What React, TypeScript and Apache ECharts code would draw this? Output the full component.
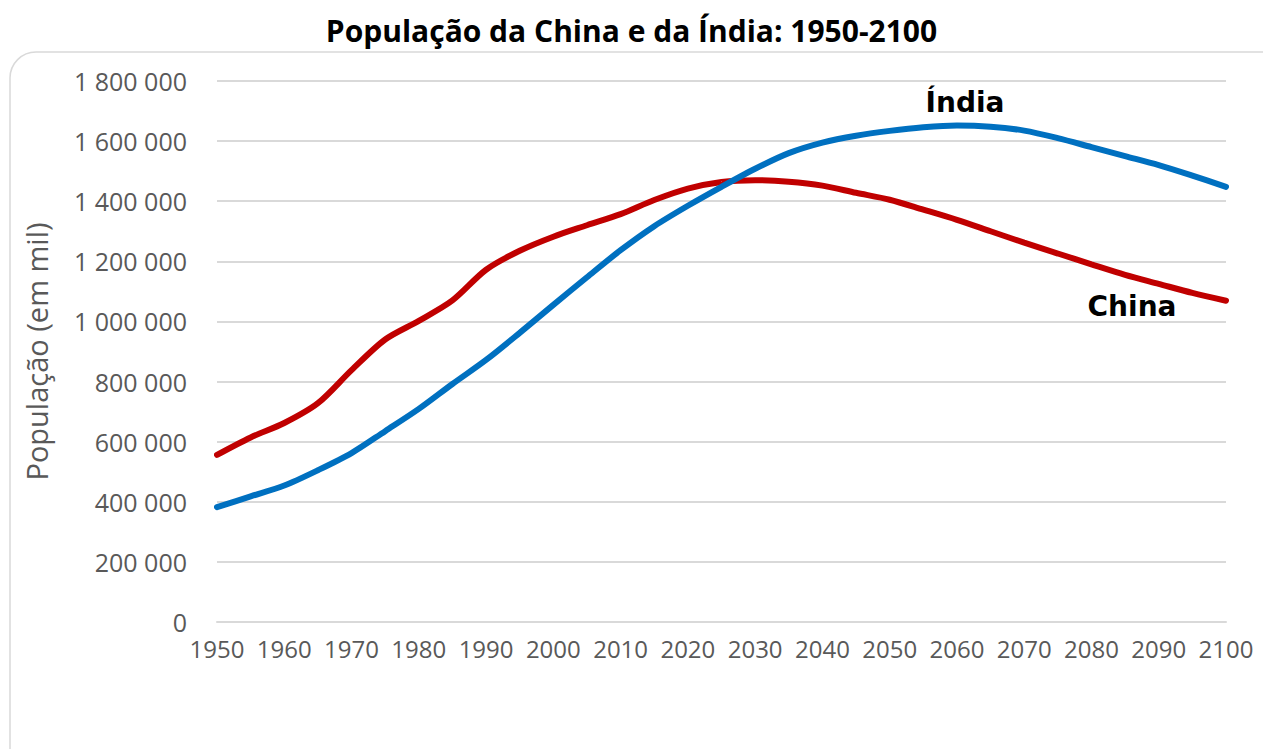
import React, { useEffect, useRef } from "react";
import * as echarts from "echarts";

const years = [1950, 1955, 1960, 1965, 1970, 1975, 1980, 1985, 1990, 1995, 2000, 2005, 2010, 2015, 2020, 2025, 2030, 2035, 2040, 2045, 2050, 2055, 2060, 2065, 2070, 2075, 2080, 2085, 2090, 2095, 2100];

// Population in thousands
const china = [556000, 614000, 662000, 728000, 838000, 940000, 1002000, 1070000, 1172000, 1235000, 1282000, 1320000, 1357000, 1404000, 1442000, 1464000, 1470000, 1465000, 1452000, 1428000, 1405000, 1372000, 1338000, 1300000, 1262000, 1226000, 1190000, 1155000, 1125000, 1095000, 1069000];

const india = [382000, 418000, 454000, 505000, 562000, 635000, 709000, 792000, 872000, 962000, 1055000, 1147000, 1237000, 1317000, 1385000, 1448000, 1508000, 1560000, 1595000, 1618000, 1634000, 1646000, 1652000, 1648000, 1635000, 1610000, 1580000, 1550000, 1520000, 1485000, 1448000];

const title = "População da China e da Índia: 1950-2100";
const yAxisName = "População (em mil)";

function fmt(v: number): string {
  return String(Math.round(v)).replace(/\B(?=(\d{3})+(?!\d))/g, " ");
}

export default function App() {
  const ref = useRef<HTMLDivElement>(null);
  useEffect(() => {
    if (!ref.current) return;
    const chart = echarts.init(ref.current, undefined, { renderer: "svg" });
    const font = "'Open Sans', sans-serif";
    chart.setOption({
      animation: false,
      backgroundColor: "#ffffff",
      title: {
        text: title,
        left: "center",
        top: 10,
        textStyle: { fontFamily: font, fontWeight: "bold", fontSize: 30, color: "#000000" },
      },
      graphic: [
        {
          type: "rect",
          z: -10,
          silent: true,
          shape: { x: 10, y: 52, width: 1280, height: 740, r: 26 },
          style: { fill: "#ffffff", stroke: "#d9d9d9", lineWidth: 1.5 },
        },
        {
          type: "text",
          x: 965,
          y: 102,
          style: {
            text: "Índia",
            fontFamily: "'DejaVu Sans', sans-serif",
            fontWeight: "bold",
            fontSize: 28,
            fill: "#000000",
            align: "center",
            verticalAlign: "middle",
          },
        },
        {
          type: "text",
          x: 1132,
          y: 306,
          style: {
            text: "China",
            fontFamily: "'DejaVu Sans', sans-serif",
            fontWeight: "bold",
            fontSize: 28,
            fill: "#000000",
            align: "center",
            verticalAlign: "middle",
          },
        },
      ],
      grid: { left: 217, right: 37, top: 81, bottom: 127 },
      xAxis: {
        type: "value",
        min: 1950,
        max: 2100,
        interval: 10,
        axisLine: { show: true, lineStyle: { color: "#d9d9d9", width: 2 } },
        axisTick: { show: false },
        splitLine: { show: false },
        axisLabel: {
          color: "#595959",
          fontFamily: font,
          fontSize: 24,
          margin: 14,
          formatter: (v: number) => String(v),
        },
      },
      yAxis: {
        type: "value",
        min: 0,
        max: 1800000,
        interval: 200000,
        name: yAxisName,
        nameLocation: "middle",
        nameGap: 166,
        nameTextStyle: { color: "#595959", fontFamily: font, fontSize: 29 },
        axisLine: { show: false },
        axisTick: { show: false },
        splitLine: { show: true, lineStyle: { color: "#d9d9d9", width: 2 } },
        axisLabel: {
          color: "#595959",
          fontFamily: font,
          fontSize: 25,
          margin: 30,
          formatter: (v: number) => fmt(v),
        },
      },
      series: [
        {
          name: "China",
          type: "line",
          data: years.map((y, i) => [y, china[i]]),
          showSymbol: false,
          smooth: 0.3,
          lineStyle: { color: "#C00000", width: 6, cap: "round" },
          itemStyle: { color: "#C00000" },
        },
        {
          name: "Índia",
          type: "line",
          data: years.map((y, i) => [y, india[i]]),
          showSymbol: false,
          smooth: 0.3,
          lineStyle: { color: "#0070C0", width: 6, cap: "round" },
          itemStyle: { color: "#0070C0" },
        },
      ],
    });
    return () => chart.dispose();
  }, []);
  return (
    <div
      ref={ref}
      style={{ position: "fixed", left: 0, top: 0, width: 1263, height: 749 }}
    />
  );
}
